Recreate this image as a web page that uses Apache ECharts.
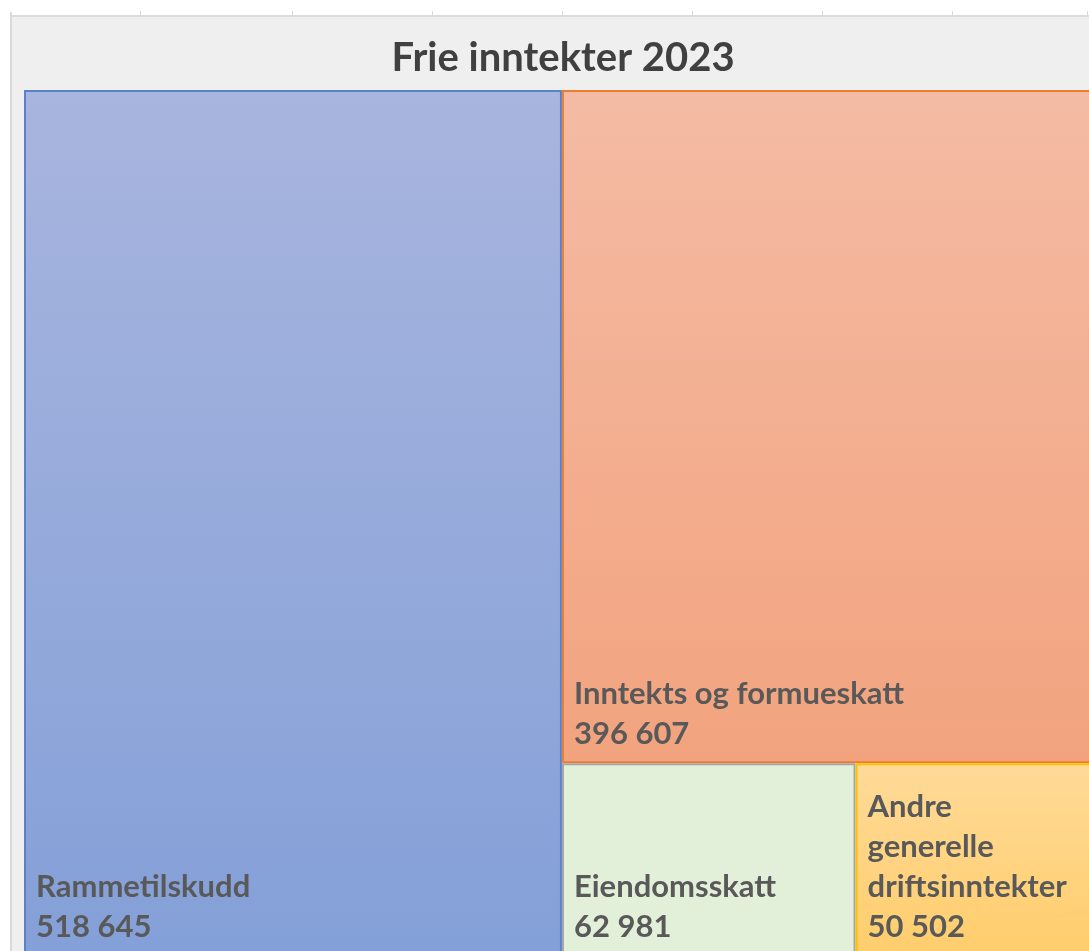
<!DOCTYPE html>
<html>
<head>
<meta charset="utf-8">
<script src="https://cdn.jsdelivr.net/npm/echarts@6/dist/echarts.min.js"></script>
<style>
  html, body { margin: 0; padding: 0; background: #ffffff; }
  #chart { width: 1089px; height: 951px; }
</style>
</head>
<body>
<div id="chart"></div>
<script>
// Frie inntekter 2023 (tusen kr)
const names = ['Rammetilskudd', 'Inntekts og formueskatt', 'Eiendomsskatt', 'Andre generelle driftsinntekter'];
const values = [518645, 396607, 62981, 50502];

// farger: topp / bunn av gradient, kantfarge
const topColors = ['#a8b5de', '#f4bba4', '#e2efd9', '#ffda98'];
const bottomColors = ['#84a0d8', '#f2a37e', '#e2efd9', '#ffcd6c'];
const borderColors = ['#5b82c8', '#ed7d31', '#a5a5a5', '#ffc000'];

// kolonnegrenser i regnearket over diagrammet (dekor)
const sheetCols = [140, 292, 432, 562, 692, 822, 952, 1087];

function fmt(n) {
    return String(n).replace(/\B(?=(\d{3})+(?!\d))/g, ' ');
}

const chart = echarts.init(document.getElementById('chart'));

const data = names.map((name, i) => ({
    name: name,
    value: values[i],
    itemStyle: {
        color: new echarts.graphic.LinearGradient(0, 0, 0, 1, [
            { offset: 0, color: topColors[i] },
            { offset: 1, color: bottomColors[i] }
        ]),
        borderColor: borderColors[i],
        borderWidth: 2
    }
}));

const graphics = [
    { type: 'rect', shape: { x: 11, y: 16, width: 1100, height: 960 }, style: { fill: '#efefef' }, z: -10 },
    { type: 'rect', shape: { x: 10, y: 12, width: 2, height: 960 }, style: { fill: '#d9d9d9' }, z: -9 },
    { type: 'rect', shape: { x: 10, y: 15, width: 1100, height: 2 }, style: { fill: '#dcdcdc' }, z: -9 }
];
sheetCols.forEach(x => {
    graphics.push({ type: 'rect', shape: { x: x, y: 11, width: 1, height: 5 }, style: { fill: '#d9d9d9' }, z: -9 });
});

const option = {
    backgroundColor: '#ffffff',
    animation: false,
    title: {
        text: 'Frie inntekter 2023',
        left: 558,
        textAlign: 'center',
        top: 33,
        textStyle: {
            fontFamily: 'Lato',
            fontWeight: 'bold',
            fontSize: 40,
            color: '#404040'
        }
    },
    graphic: graphics,
    series: [{
        type: 'treemap',
        left: 24,
        top: 90,
        width: 1067,
        height: 866,
        roam: false,
        nodeClick: false,
        breadcrumb: { show: false },
        squareRatio: 1,
        itemStyle: { borderWidth: 0, gapWidth: 0 },
        label: {
            show: true,
            position: 'insideBottomLeft',
            padding: [0, 0, 7, 10],
            fontFamily: 'Lato',
            fontWeight: 'bold',
            fontSize: 31,
            lineHeight: 40,
            color: '#595959',
            overflow: 'none',
            formatter: p => {
                const name = p.name.length > 25 ? p.name.split(' ').join('\n') : p.name;
                return name + '\n' + fmt(p.value);
            }
        },
        data: data
    }]
};

chart.setOption(option);
</script>
</body>
</html>
